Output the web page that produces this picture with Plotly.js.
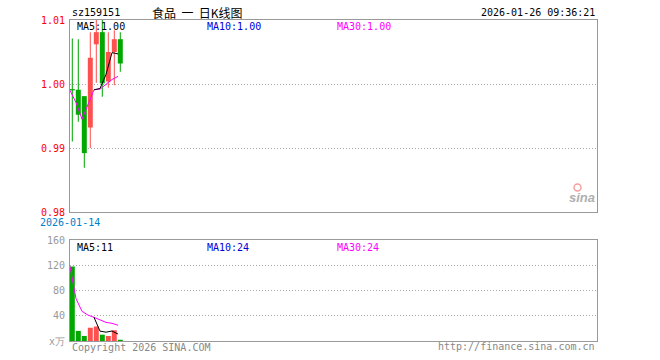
<!DOCTYPE html>
<html><head><meta charset="utf-8">
<script src="https://cdn.plot.ly/plotly-3.0.1.min.js"></script>
<style>html,body{margin:0;padding:0;background:#fff}#chart{width:660px;height:360px}</style>
</head><body><div id="chart"></div>
<script>
// ---- data ----
var dates  = ['2026-01-14','2026-01-15','2026-01-16','2026-01-19','2026-01-20','2026-01-21','2026-01-22','2026-01-23','2026-01-26'];
var open   = [0.9992, 0.9991, 0.9981, 0.9932, 1.0062, 1.0081, 1.0004, 1.0050, 1.0070];
var close  = [0.9990, 0.9952, 0.9892, 1.0041, 1.0081, 1.0001, 1.0050, 1.0070, 1.0032];
var high   = [1.0071, 1.0070, 0.9981, 1.0081, 1.0100, 1.0100, 1.0081, 1.0084, 1.0081];
var low    = [0.9910, 0.9941, 0.9869, 0.9900, 1.0002, 0.9980, 0.9994, 0.9998, 1.0019];
var priceMA5  = [null, null, null, null, 0.9991, 0.9993, 1.0015, 1.0049, 1.0047];
var priceMA30 = [0.9990, 0.9971, 0.9945, 0.9969, 0.9991, 0.9992, 0.9999, 1.0007, 1.0012];
var volume    = [118, 16, 8, 21, 23, 10, 8, 17, 2];
var volMA5    = [null, null, null, null, 37.5, 15.6, 14, 15.8, 11];
var volMA30   = [118, 67, 47, 41, 37.5, 33, 29.5, 28, 25];
var priceTicks = [0.98, 0.99, 1.00, 1.01];
var priceTickText = ['0.98', '0.99', '1.00', '1.01'];
var volTicks = [0, 40, 80, 120, 160];
var volTickText = ['x万', '40', '80', '120', '160'];
var legendPrice = {ma5: 'MA5:1.00', ma10: 'MA10:1.00', ma30: 'MA30:1.00'};
var legendVol = {ma5: 'MA5:11', ma10: 'MA10:24', ma30: 'MA30:24'};
var titleText = '食品\u00a0\u00a0一\u00a0\u00a0日K线图';

// ---- styles ----
var RED = '#ff5050', GREEN = '#00a800';
var MONO = 'DejaVu Sans Mono, monospace';
var lineShift = -0.38;

var idx = dates.map(function(d, i){ return i; });
var colors = idx.map(function(i){ return close[i] >= open[i] ? RED : GREEN; });
var lineX = idx.map(function(i){ return i + lineShift; });

var traces = [
  {type:'bar', x: idx, base: low, y: idx.map(function(i){return high[i]-low[i];}),
   width: 0.17, marker:{color: colors, line:{width:0}}, xaxis:'x', yaxis:'y', hoverinfo:'skip'},
  {type:'bar', x: idx, base: idx.map(function(i){return Math.min(open[i], close[i]);}),
   y: idx.map(function(i){return Math.max(Math.abs(close[i]-open[i]), 0.00015);}),
   width: 0.83, marker:{color: colors, line:{width:0}}, xaxis:'x', yaxis:'y', hoverinfo:'skip'},
  {type:'scatter', mode:'lines', x: lineX, y: priceMA30, line:{color:'#ff00ff', width:1}, xaxis:'x', yaxis:'y', hoverinfo:'skip'},
  {type:'scatter', mode:'lines', x: lineX, y: priceMA5, line:{color:'#000', width:1}, xaxis:'x', yaxis:'y', hoverinfo:'skip'},
  {type:'bar', x: idx, y: volume, width: 0.83, marker:{color: colors, line:{width:0}}, xaxis:'x2', yaxis:'y2', hoverinfo:'skip'},
  {type:'scatter', mode:'lines', x: lineX, y: volMA30, line:{color:'#ff00ff', width:1}, xaxis:'x2', yaxis:'y2', hoverinfo:'skip'},
  {type:'scatter', mode:'lines', x: lineX, y: volMA5, line:{color:'#000', width:1}, xaxis:'x2', yaxis:'y2', hoverinfo:'skip'}
];

function px(x){ return (x - 70) / 527; }
function py(y){ return 1 - y / 360; }
function ann(text, x, y, xanchor, color, size, family){
  return {text: text, xref:'paper', yref:'paper', x: px(x), y: py(y), xanchor: xanchor, yanchor:'middle',
    showarrow:false, font:{family: family || MONO, size: size || 10, color: color || '#000'}};
}

var axisFrame = {showline:true, mirror:true, linecolor:'#999', linewidth:1, zeroline:false, fixedrange:true};
var layout = {
  width:660, height:360, margin:{l:70, r:63, t:0, b:0, pad:0},
  paper_bgcolor:'#fff', plot_bgcolor:'#fff', showlegend:false, barmode:'overlay',
  xaxis: Object.assign({domain:[0,1], range:[-0.383, 87.45], showticklabels:false, showgrid:false, anchor:'y'}, axisFrame),
  xaxis2: Object.assign({domain:[0,1], range:[-0.383, 87.45], showticklabels:false, showgrid:false, anchor:'y2'}, axisFrame),
  yaxis: Object.assign({domain:[py(212), py(20)], range:[0.98, 1.01], tickmode:'array', tickvals: priceTicks, ticktext: priceTickText,
    tickfont:{family: MONO, size:10, color:'#ff0000'}, ticks:'', ticklabelstandoff:2,
    showgrid:true, gridcolor:'#a8a8a8', griddash:'1px,2px', gridwidth:1, anchor:'x'}, axisFrame),
  yaxis2: Object.assign({domain:[py(341), py(240)], range:[0, 160], tickmode:'array', tickvals: volTicks, ticktext: volTickText,
    tickfont:{family: MONO, size:10, color:'#999999'}, ticks:'', ticklabelstandoff:2,
    showgrid:true, gridcolor:'#a8a8a8', griddash:'1px,2px', gridwidth:1, anchor:'x2'}, axisFrame),
  annotations: [
    ann('sz159151', 70, 13, 'left', '#000'),
    ann(titleText, 150, 13, 'left', '#000', 12, 'Noto Sans CJK SC'),
    ann('2026-01-26 09:36:21', 597, 13, 'right', '#000'),
    ann(legendPrice.ma5, 75, 27, 'left', '#000'),
    ann(legendPrice.ma10, 205, 27, 'left', '#0000dd'),
    ann(legendPrice.ma30, 335, 27, 'left', '#ff00ff'),
    ann(dates[0], 70, 222, 'center', '#0080cc'),
    ann(legendVol.ma5, 75, 247, 'left', '#000'),
    ann(legendVol.ma10, 205, 247, 'left', '#0000dd'),
    ann(legendVol.ma30, 335, 247, 'left', '#ff00ff'),
    ann('Copyright 2026 SINA.COM', 70, 347, 'left', '#888888'),
    ann('http://finance.sina.com.cn', 597, 346, 'right', '#888888'),
    ann('<b><i>sina</i></b>', 597, 197, 'right', '#b0b0b0', 13, 'Liberation Sans')
  ],
  shapes: [
    {type:'circle', xref:'paper', yref:'paper', x0: px(574), x1: px(581), y0: py(191), y1: py(184),
     line:{color:'#f4a0a0', width:1.5}, fillcolor:'rgba(0,0,0,0)'}
  ]
};

Plotly.newPlot('chart', traces, layout, {staticPlot:true, displayModeBar:false});
</script></body></html>
